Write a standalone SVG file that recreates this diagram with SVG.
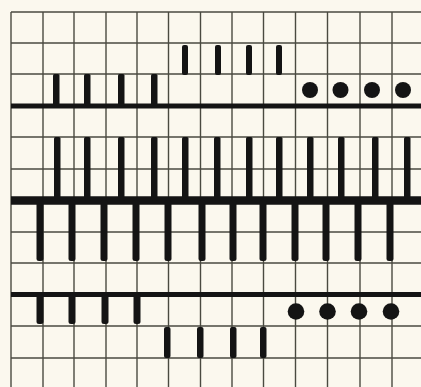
<svg xmlns="http://www.w3.org/2000/svg" width="421" height="387" viewBox="0 0 421 387">
  <style>
    .grid line { stroke: #4a4a40; stroke-width: 1.4; }
    .rule { stroke: #141414; }
    .bar { fill: #141414; }
    .dot { fill: #141414; }
  </style>
  <rect x="0" y="0" width="421" height="387" fill="#fbf8ee"/>
  <g id="grid" class="grid">
    <line x1="11" y1="12" x2="11" y2="387"/>
    <line x1="43" y1="12" x2="43" y2="387"/>
    <line x1="74" y1="12" x2="74" y2="387"/>
    <line x1="106" y1="12" x2="106" y2="387"/>
    <line x1="137" y1="12" x2="137" y2="387"/>
    <line x1="168.5" y1="12" x2="168.5" y2="387"/>
    <line x1="200.5" y1="12" x2="200.5" y2="387"/>
    <line x1="232" y1="12" x2="232" y2="387"/>
    <line x1="263.5" y1="12" x2="263.5" y2="387"/>
    <line x1="295.5" y1="12" x2="295.5" y2="387"/>
    <line x1="327.5" y1="12" x2="327.5" y2="387"/>
    <line x1="360" y1="12" x2="360" y2="387"/>
    <line x1="392" y1="12" x2="392" y2="387"/>
    <line x1="11" y1="12" x2="421" y2="12"/>
    <line x1="11" y1="43" x2="421" y2="43"/>
    <line x1="11" y1="74" x2="421" y2="74"/>
    <line x1="11" y1="137" x2="421" y2="137"/>
    <line x1="11" y1="169" x2="421" y2="169"/>
    <line x1="11" y1="232" x2="421" y2="232"/>
    <line x1="11" y1="263" x2="421" y2="263"/>
    <line x1="11" y1="326" x2="421" y2="326"/>
    <line x1="11" y1="358" x2="421" y2="358"/>
  </g>
  <g id="rules">
    <line class="rule" x1="11" y1="106" x2="421" y2="106" stroke-width="5"/>
    <line class="rule" x1="11" y1="200.5" x2="421" y2="200.5" stroke-width="8.5"/>
    <line class="rule" x1="11" y1="294.5" x2="421" y2="294.5" stroke-width="5"/>
  </g>
  <g id="top-section">
    <g id="row2-bars">
      <rect class="bar" x="182" y="45" width="6" height="30" rx="2"/>
      <rect class="bar" x="215" y="45" width="6" height="30" rx="2"/>
      <rect class="bar" x="246" y="45" width="6" height="30" rx="2"/>
      <rect class="bar" x="276" y="45" width="6" height="30" rx="2"/>
    </g>
    <g id="row3-bars">
      <rect class="bar" x="53" y="74" width="6.5" height="32" rx="1.5"/>
      <rect class="bar" x="84" y="74" width="6.5" height="32" rx="1.5"/>
      <rect class="bar" x="118" y="74" width="6.5" height="32" rx="1.5"/>
      <rect class="bar" x="151" y="74" width="6.5" height="32" rx="1.5"/>
    </g>
    <g id="row3-dots">
      <circle class="dot" cx="310" cy="90" r="8"/>
      <circle class="dot" cx="340.5" cy="90" r="8"/>
      <circle class="dot" cx="372" cy="90" r="8"/>
      <circle class="dot" cx="403" cy="90" r="8"/>
    </g>
  </g>
  <g id="middle-section">
    <g id="upper-long-bars">
      <rect class="bar" x="54" y="137" width="6.5" height="64" rx="1.5"/>
      <rect class="bar" x="84" y="137" width="6.5" height="64" rx="1.5"/>
      <rect class="bar" x="118" y="137" width="6.5" height="64" rx="1.5"/>
      <rect class="bar" x="151" y="137" width="6.5" height="64" rx="1.5"/>
      <rect class="bar" x="182" y="137" width="6.5" height="64" rx="1.5"/>
      <rect class="bar" x="214" y="137" width="6.5" height="64" rx="1.5"/>
      <rect class="bar" x="246" y="137" width="6.5" height="64" rx="1.5"/>
      <rect class="bar" x="276" y="137" width="6.5" height="64" rx="1.5"/>
      <rect class="bar" x="307" y="137" width="6.5" height="64" rx="1.5"/>
      <rect class="bar" x="338" y="137" width="6.5" height="64" rx="1.5"/>
      <rect class="bar" x="372" y="137" width="6.5" height="64" rx="1.5"/>
      <rect class="bar" x="404" y="137" width="6.5" height="64" rx="1.5"/>
    </g>
    <g id="lower-long-bars">
      <rect class="bar" x="36.5" y="200" width="7" height="61" rx="2.5"/>
      <rect class="bar" x="68.5" y="200" width="7" height="61" rx="2.5"/>
      <rect class="bar" x="100.5" y="200" width="7" height="61" rx="2.5"/>
      <rect class="bar" x="132.5" y="200" width="7" height="61" rx="2.5"/>
      <rect class="bar" x="164.5" y="200" width="7" height="61" rx="2.5"/>
      <rect class="bar" x="198.5" y="200" width="7" height="61" rx="2.5"/>
      <rect class="bar" x="229.5" y="200" width="7" height="61" rx="2.5"/>
      <rect class="bar" x="259.5" y="200" width="7" height="61" rx="2.5"/>
      <rect class="bar" x="291.5" y="200" width="7" height="61" rx="2.5"/>
      <rect class="bar" x="322.5" y="200" width="7" height="61" rx="2.5"/>
      <rect class="bar" x="354.5" y="200" width="7" height="61" rx="2.5"/>
      <rect class="bar" x="386.5" y="200" width="7" height="61" rx="2.5"/>
    </g>
  </g>
  <g id="bottom-section">
    <g id="row10-bars">
      <rect class="bar" x="36.5" y="294" width="7" height="30" rx="2.5"/>
      <rect class="bar" x="68.5" y="294" width="7" height="30" rx="2.5"/>
      <rect class="bar" x="101.5" y="294" width="7" height="30" rx="2.5"/>
      <rect class="bar" x="133.5" y="294" width="7" height="30" rx="2.5"/>
    </g>
    <g id="row10-dots">
      <circle class="dot" cx="296" cy="311.5" r="8.3"/>
      <circle class="dot" cx="327.5" cy="311.5" r="8.3"/>
      <circle class="dot" cx="359" cy="311.5" r="8.3"/>
      <circle class="dot" cx="391" cy="311.5" r="8.3"/>
    </g>
    <g id="row11-bars">
      <rect class="bar" x="164" y="327" width="6.5" height="31" rx="2"/>
      <rect class="bar" x="197" y="327" width="6.5" height="31" rx="2"/>
      <rect class="bar" x="230" y="327" width="6.5" height="31" rx="2"/>
      <rect class="bar" x="260" y="327" width="6.5" height="31" rx="2"/>
    </g>
  </g>
</svg>
